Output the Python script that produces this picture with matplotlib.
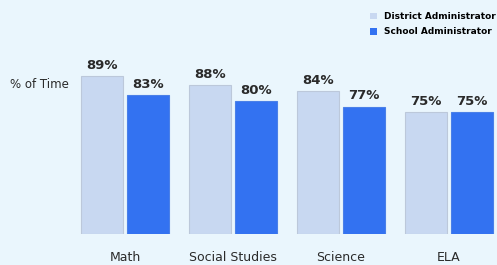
import numpy as np
import matplotlib.pyplot as plt
from matplotlib.patches import Patch

subjects = ['Math', 'Social Studies', 'Science', 'ELA']
district_pct = [89, 88, 84, 75]
school_pct = [83, 80, 77, 75]
# bar heights as drawn in the picture (not strictly proportional to the labels)
district_height = [89, 83.8, 80.5, 68.4]
school_height = [78.1, 74.9, 71.6, 68.4]

bg = '#EAF6FD'
c_district = '#C8D8F1'
c_school = '#3372F1'

W, H = 497, 265
fig = plt.figure(figsize=(W / 100, H / 100), dpi=100, facecolor=bg)
L, R, B, T = 70, 497, 234, 60
ax = fig.add_axes([L / W, (H - B) / H, (R - L) / W, (B - T) / H])
ax.set_facecolor(bg)

x = np.arange(len(subjects))
off = 0.213
wid = 0.395
b1 = ax.bar(x - off, district_height, wid, color=c_district, edgecolor='#BCC8DA', linewidth=0.8)
b2 = ax.bar(x + off, school_height, wid, color=c_school, edgecolor='#4A80E8', linewidth=0.8)

for bars, labels in [(b1, district_pct), (b2, school_pct)]:
    for rect, v in zip(bars, labels):
        ax.annotate('{}%'.format(v), (rect.get_x() + rect.get_width() / 2, rect.get_height()),
                    xytext=(0, 3), textcoords='offset points', ha='center', va='bottom',
                    fontsize=9.5, fontweight='bold', color='#2a2a2a')

ax.set_xlim((L - 125) / 108, (R - 125) / 108)
ax.set_ylim(0, (B - T) / 1.779)
ax.set_xticks(x)
ax.set_xticklabels(subjects, fontsize=9, color='#2a2a2a')
ax.tick_params(axis='x', length=0, pad=12)
ax.set_yticks([])
for s in ax.spines.values():
    s.set_visible(False)

fig.text(10 / W, (H - 84) / H, '% of Time', fontsize=8.5, color='#2a2a2a', va='center', ha='left')

handles = [Patch(facecolor=c_district, edgecolor='none'), Patch(facecolor=c_school, edgecolor='none')]
fig.legend(handles, ['District Administrator', 'School Administrator'],
           loc='upper left', bbox_to_anchor=(362 / W, 1 - 4 / H), frameon=False,
           handlelength=0.8, handleheight=0.8, handletextpad=0.7,
           labelspacing=0.7, prop={'weight': 'bold', 'size': 6.5})

fig.savefig('out.png', dpi=100, facecolor=bg)
